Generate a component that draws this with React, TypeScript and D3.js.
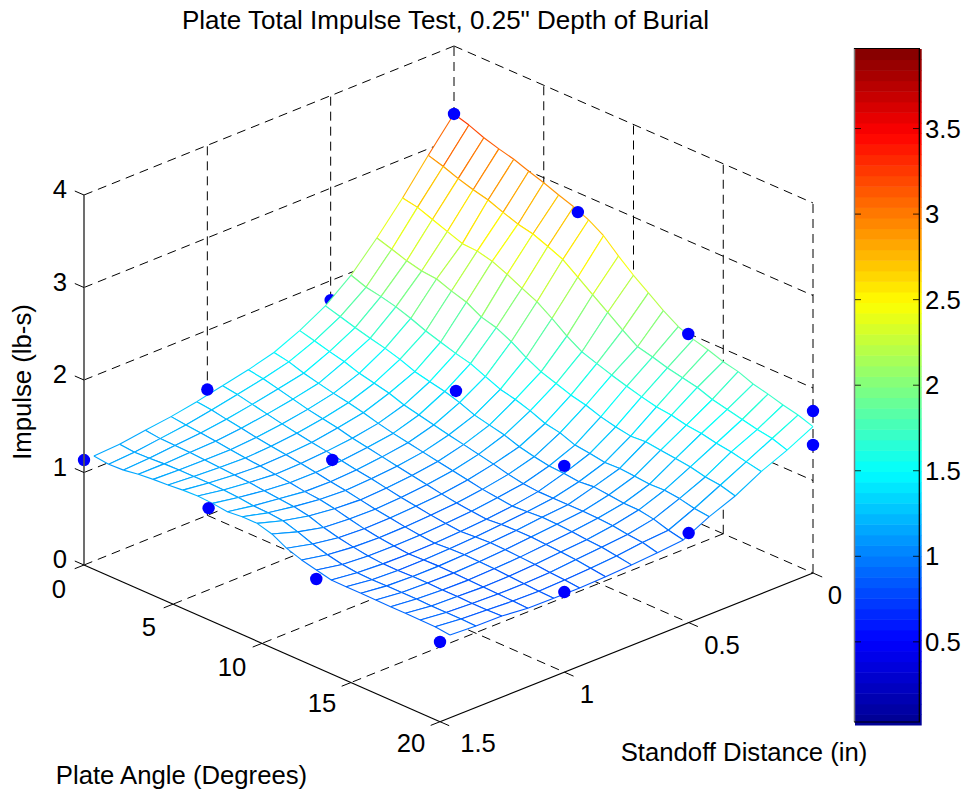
import React from "react";
import * as d3 from "d3";

const W = 966;
const H = 793;

// Axis ticks
const angleTicks = [0, 5, 10, 15, 20];
const standoffTicks = [0, 0.5, 1, 1.5];
const impulseTicks = [0, 1, 2, 3, 4];
const colorbarTicks = [0.5, 1, 1.5, 2, 2.5, 3, 3.5];

// Measured test points: [angle, standoff, impulse]
const visiblePoints = [
  [0, 0, 3.265], [0, 1, 1.36], [0, 1.5, 1.135],
  [6.9, 0, 2.79], [7, 0.5, 1.401], [7, 1, 1.192], [7, 1.5, 1.208],
  [13.05, 0, 1.994], [13.05, 0.5, 1.104], [13.05, 1.5, 0.954],
  [20, 0, 1.384], [20, 0, 1.751], [20, 0.5, 0.968], [20, 1, 0.866], [20, 1.5, 0.862],
];
const hiddenPoints = [[0, 0.5, 1.79]];

// Fitted surface, one list per standoff row (0 -> 1.46 in), 25 nodes over plate angle 0 -> 20
const row00 = [3.265,3.216,3.15,3.10,3.058,3.00,2.946,2.884,2.828,2.756,2.656,2.507,2.37,2.25,2.13,2.026,1.96,1.916,1.86,1.823,1.76,1.722,1.675,1.637,1.582];
const row01 = [2.93,2.88,2.82,2.77,2.73,2.667,2.61,2.575,2.51,2.44,2.32,2.2,2.08,1.96,1.85,1.81,1.763,1.727,1.693,1.634,1.597,1.559,1.521,1.495,1.44];
const row02 = [2.58,2.55,2.49,2.43,2.37,2.36,2.32,2.25,2.17,2.095,1.985,1.865,1.765,1.71,1.655,1.606,1.562,1.524,1.505,1.468,1.449,1.414,1.391,1.354,1.32];
const row03 = [2.26,2.21,2.155,2.115,2.10,2.04,1.99,1.90,1.855,1.775,1.675,1.59,1.535,1.48,1.442,1.387,1.349,1.32,1.33,1.308,1.29,1.27,1.232,1.213,1.168];
const row04 = [1.97,1.91,1.88,1.84,1.785,1.72,1.67,1.62,1.58,1.51,1.442,1.404,1.352,1.286,1.255,1.194,1.174,1.147,1.153,1.14,1.124,1.13,1.11,1.074,1.056];
const row05 = [1.75,1.704,1.656,1.612,1.574,1.526,1.463,1.425,1.39,1.34,1.276,1.239,1.202,1.146,1.108,1.079,1.07,1.05,1.066,1.048,1.03,1.027,1.0,0.95,0.916];
const row06 = [1.595,1.554,1.509,1.471,1.416,1.38,1.342,1.285,1.248,1.211,1.173,1.14,1.105,1.07,1.03,1.0,0.985,0.985,0.985,0.985,0.98,0.97,0.945,0.93,0.89];
const row07 = [1.47,1.44,1.387,1.349,1.311,1.281,1.243,1.199,1.161,1.13,1.10,1.07,1.04,1.01,0.98,0.96,0.94,0.95,0.96,0.955,0.945,0.93,0.92,0.895,0.87];
const row08 = [1.395,1.37,1.33,1.29,1.25,1.22,1.19,1.15,1.12,1.09,1.06,1.03,1.0,0.97,0.945,0.925,0.91,0.925,0.93,0.93,0.92,0.91,0.895,0.875,0.854];
const row09 = [1.335,1.31,1.275,1.24,1.205,1.175,1.145,1.12,1.09,1.06,1.035,1.005,0.975,0.95,0.925,0.905,0.89,0.90,0.91,0.905,0.895,0.885,0.87,0.86,0.843];
const row10 = [1.275,1.255,1.225,1.2,1.17,1.145,1.125,1.1,1.075,1.045,1.02,0.99,0.96,0.935,0.91,0.89,0.875,0.885,0.89,0.885,0.88,0.87,0.86,0.85,0.844];
const row11 = [1.225,1.205,1.19,1.17,1.15,1.13,1.115,1.095,1.075,1.05,1.035,1.005,0.965,0.93,0.905,0.885,0.87,0.875,0.88,0.875,0.87,0.865,0.86,0.855,0.848];
const row12 = [1.19,1.17,1.165,1.16,1.15,1.14,1.13,1.12,1.10,1.085,1.07,1.04,0.985,0.945,0.915,0.89,0.875,0.875,0.88,0.88,0.875,0.875,0.87,0.87,0.876];
const row13 = [1.15,1.135,1.14,1.15,1.155,1.155,1.155,1.15,1.14,1.12,1.115,1.10,1.05,0.99,0.945,0.91,0.89,0.885,0.89,0.89,0.89,0.885,0.885,0.885,0.88];
const row14 = [1.135,1.116,1.124,1.149,1.165,1.174,1.19,1.197,1.188,1.168,1.185,1.184,1.14,1.055,1.0,0.962,0.924,0.922,0.922,0.92,0.918,0.917,0.916,0.914,0.895];
const surfaceRows = [row00,row01,row02,row03,row04,row05,row06,row07,row08,row09,row10,row11,row12,row13,row14];
const surfaceStandoffMax = 1.46;
const surfaceAngleMax = 20;

const cMin = 0.014;
const cMax = 3.965;

// Projection of the 3D box
const D = [454, 416];
const C = [813, 573];
const A = [84, 565];
const B = [440, 721.7];
const uScale = d3.scaleLinear().domain([0, 20]).range([0, 1]);
const vScale = d3.scaleLinear().domain([0, 1.5]).range([0, 1]);
const zScale = d3.scaleLinear().domain([0, 4]).range([0, 370]);
function project(a: number, s: number, z: number): [number, number] {
  const u = uScale(a);
  const v = vScale(s);
  const x = (1 - u) * (1 - v) * D[0] + u * (1 - v) * C[0] + (1 - u) * v * A[0] + u * v * B[0];
  const y = (1 - u) * (1 - v) * D[1] + u * (1 - v) * C[1] + (1 - u) * v * A[1] + u * v * B[1];
  return [x, y - zScale(z)];
}

const jetBase = d3
  .scaleLinear<string>()
  .domain([0, 0.125, 0.375, 0.625, 0.875, 1])
  .range(["#00008f", "#0000ff", "#00ffff", "#ffff00", "#ff0000", "#800000"]);
const bands = d3.range(64);
const bandColor = (k: number) => jetBase((k + 0.5) / 64);
const colorOf = (z: number) => {
  const k = Math.max(0, Math.min(63, Math.floor(((z - cMin) / (cMax - cMin)) * 64)));
  return bandColor(k);
};

const cbY = d3.scaleLinear().domain([cMin, cMax]).range([725, 49]);

const FONT = "'Liberation Sans', Arial, Helvetica, sans-serif";
const DASH = "9 6";

function Seg({ p, q, dash, stroke = "#000", w = 1 }: any) {
  return (
    <line x1={p[0]} y1={p[1]} x2={q[0]} y2={q[1]} stroke={stroke} strokeWidth={w} strokeDasharray={dash ? DASH : undefined} />
  );
}

function Grid() {
  const els: React.ReactNode[] = [];
  let key = 0;
  const L = (p: any, q: any) => els.push(<Seg key={key++} p={p} q={q} dash />);
  angleTicks.forEach((a) => {
    if (a !== 20) L(project(a, 0, 0), project(a, 1.5, 0));
  });
  standoffTicks.forEach((s) => {
    if (s !== 1.5) L(project(0, s, 0), project(20, s, 0));
  });
  impulseTicks.forEach((z) => {
    if (z === 0) return;
    L(project(0, 1.5, z), project(0, 0, z));
    L(project(0, 0, z), project(20, 0, z));
  });
  standoffTicks.forEach((s) => {
    if (s !== 1.5) L(project(0, s, 0), project(0, s, 4));
  });
  angleTicks.forEach((a) => {
    if (a !== 0) L(project(a, 0, 0), project(a, 0, 4));
  });
  return <g>{els}</g>;
}

function Surface() {
  const n = surfaceRows.length - 1;
  const m = surfaceRows[0].length - 1;
  const aOf = (i: number) => (i / m) * surfaceAngleMax;
  const sOf = (j: number) => (j / n) * surfaceStandoffMax;
  const P = (i: number, j: number) => project(aOf(i), sOf(j), surfaceRows[j][i]);
  const line = d3.line();
  const els: React.ReactNode[] = [];
  for (let j = 0; j < n; j++) {
    for (let i = 0; i < m; i++) {
      const a = P(i, j), b = P(i + 1, j), c = P(i + 1, j + 1), d = P(i, j + 1);
      const z = surfaceRows[j];
      const zn = surfaceRows[j + 1];
      els.push(
        <g key={`${j}-${i}`}>
          <path d={line([a, b, c, d])! + "Z"} fill="#fff" stroke="none" />
          <Seg p={a} q={b} stroke={colorOf((z[i] + z[i + 1]) / 2)} w={1.1} />
          <Seg p={a} q={d} stroke={colorOf((z[i] + zn[i]) / 2)} w={1.1} />
          <Seg p={d} q={c} stroke={colorOf((zn[i] + zn[i + 1]) / 2)} w={1.1} />
          <Seg p={b} q={c} stroke={colorOf((z[i + 1] + zn[i + 1]) / 2)} w={1.1} />
        </g>
      );
    }
  }
  return <g>{els}</g>;
}

function Dots({ pts }: { pts: number[][] }) {
  return (
    <g>
      {pts.map((d, i) => {
        const [x, y] = project(d[0], d[1], d[2]);
        return <circle key={i} cx={x} cy={y} r={6.2} fill="#0000ff" />;
      })}
    </g>
  );
}

const labelStyle = { fontFamily: FONT, fontSize: 25.7, fill: "#000" } as const;

export default function App() {
  const tick = 10;
  const aDir = [-0.93, 0.37];
  const sDir = [0.92, 0.4];
  const zDir = [-0.92, -0.4];
  const aLabelPos: Record<number, [number, number]> = { 0: [59, 598], 5: [149, 636], 10: [232, 676], 15: [322, 712], 20: [411, 752] };
  const sLabelPos: Record<number, [number, number]> = { 0: [835, 604], 0.5: [722, 654], 1: [587, 703], 1.5: [478, 752] };
  return (
    <svg width={W} height={H} style={{ position: "absolute", left: 0, top: 0, display: "block", background: "#fff" }}>
      <Grid />
      <Dots pts={hiddenPoints} />
      <Surface />
      <Dots pts={visiblePoints} />

      <Seg p={project(0, 1.5, 0)} q={project(0, 1.5, 4)} stroke="#555" w={1.7} />
      <Seg p={project(0, 1.5, 0)} q={project(20, 1.5, 0)} w={1.2} />
      <Seg p={project(20, 1.5, 0)} q={project(20, 0, 0)} w={1.2} />

      {impulseTicks.map((z) => {
        const p = project(0, 1.5, z);
        return (
          <g key={z}>
            <Seg p={p} q={[p[0] + zDir[0] * tick, p[1] + zDir[1] * tick]} />
            <text x={67} y={p[1] + 3} textAnchor="end" {...labelStyle}>{z}</text>
          </g>
        );
      })}
      {angleTicks.map((a) => {
        const p = project(a, 1.5, 0);
        const l = aLabelPos[a];
        return (
          <g key={a}>
            <Seg p={p} q={[p[0] + aDir[0] * tick, p[1] + aDir[1] * tick]} />
            <text x={l[0]} y={l[1]} textAnchor="middle" {...labelStyle}>{a}</text>
          </g>
        );
      })}
      {standoffTicks.map((s) => {
        const p = project(20, s, 0);
        const l = sLabelPos[s];
        return (
          <g key={s}>
            <Seg p={p} q={[p[0] + sDir[0] * tick, p[1] + sDir[1] * tick]} />
            <text x={l[0]} y={l[1]} textAnchor="middle" {...labelStyle}>{s}</text>
          </g>
        );
      })}

      <text x={445.5} y={29} textAnchor="middle" {...labelStyle} fontSize={26}>
        Plate Total Impulse Test, 0.25" Depth of Burial
      </text>
      <text transform="translate(31,382) rotate(-90)" textAnchor="middle" {...labelStyle}>
        Impulse (lb-s)
      </text>
      <text x={181.5} y={784} textAnchor="middle" {...labelStyle}>
        Plate Angle (Degrees)
      </text>
      <text x={744} y={761} textAnchor="middle" {...labelStyle}>
        Standoff Distance (in)
      </text>

      {bands.map((k) => {
        const top = 49 + ((63 - k) * 676) / 64;
        return <rect key={k} x={855} y={top} width={66.7} height={676 / 64 + 0.5} fill={bandColor(k)} />;
      })}
      <line x1={854.5} y1={48} x2={854.5} y2={722} stroke="#808080" strokeWidth={1.5} />
      <line x1={854} y1={48.5} x2={920} y2={48.5} stroke="#000" strokeWidth={1.2} />
      <line x1={854} y1={722} x2={920} y2={722} stroke="#000" strokeWidth={1.2} />
      <line x1={919.3} y1={48} x2={919.3} y2={722} stroke="#000" strokeWidth={1.2} />
      {colorbarTicks.map((t) => {
        const y = cbY(t);
        return (
          <g key={t}>
            <line x1={855} x2={861} y1={y} y2={y} stroke="#000" strokeWidth={0.8} />
            <line x1={913} x2={919} y1={y} y2={y} stroke="#000" strokeWidth={0.8} />
            <text x={925} y={y + 9} {...labelStyle}>{t}</text>
          </g>
        );
      })}
    </svg>
  );
}
